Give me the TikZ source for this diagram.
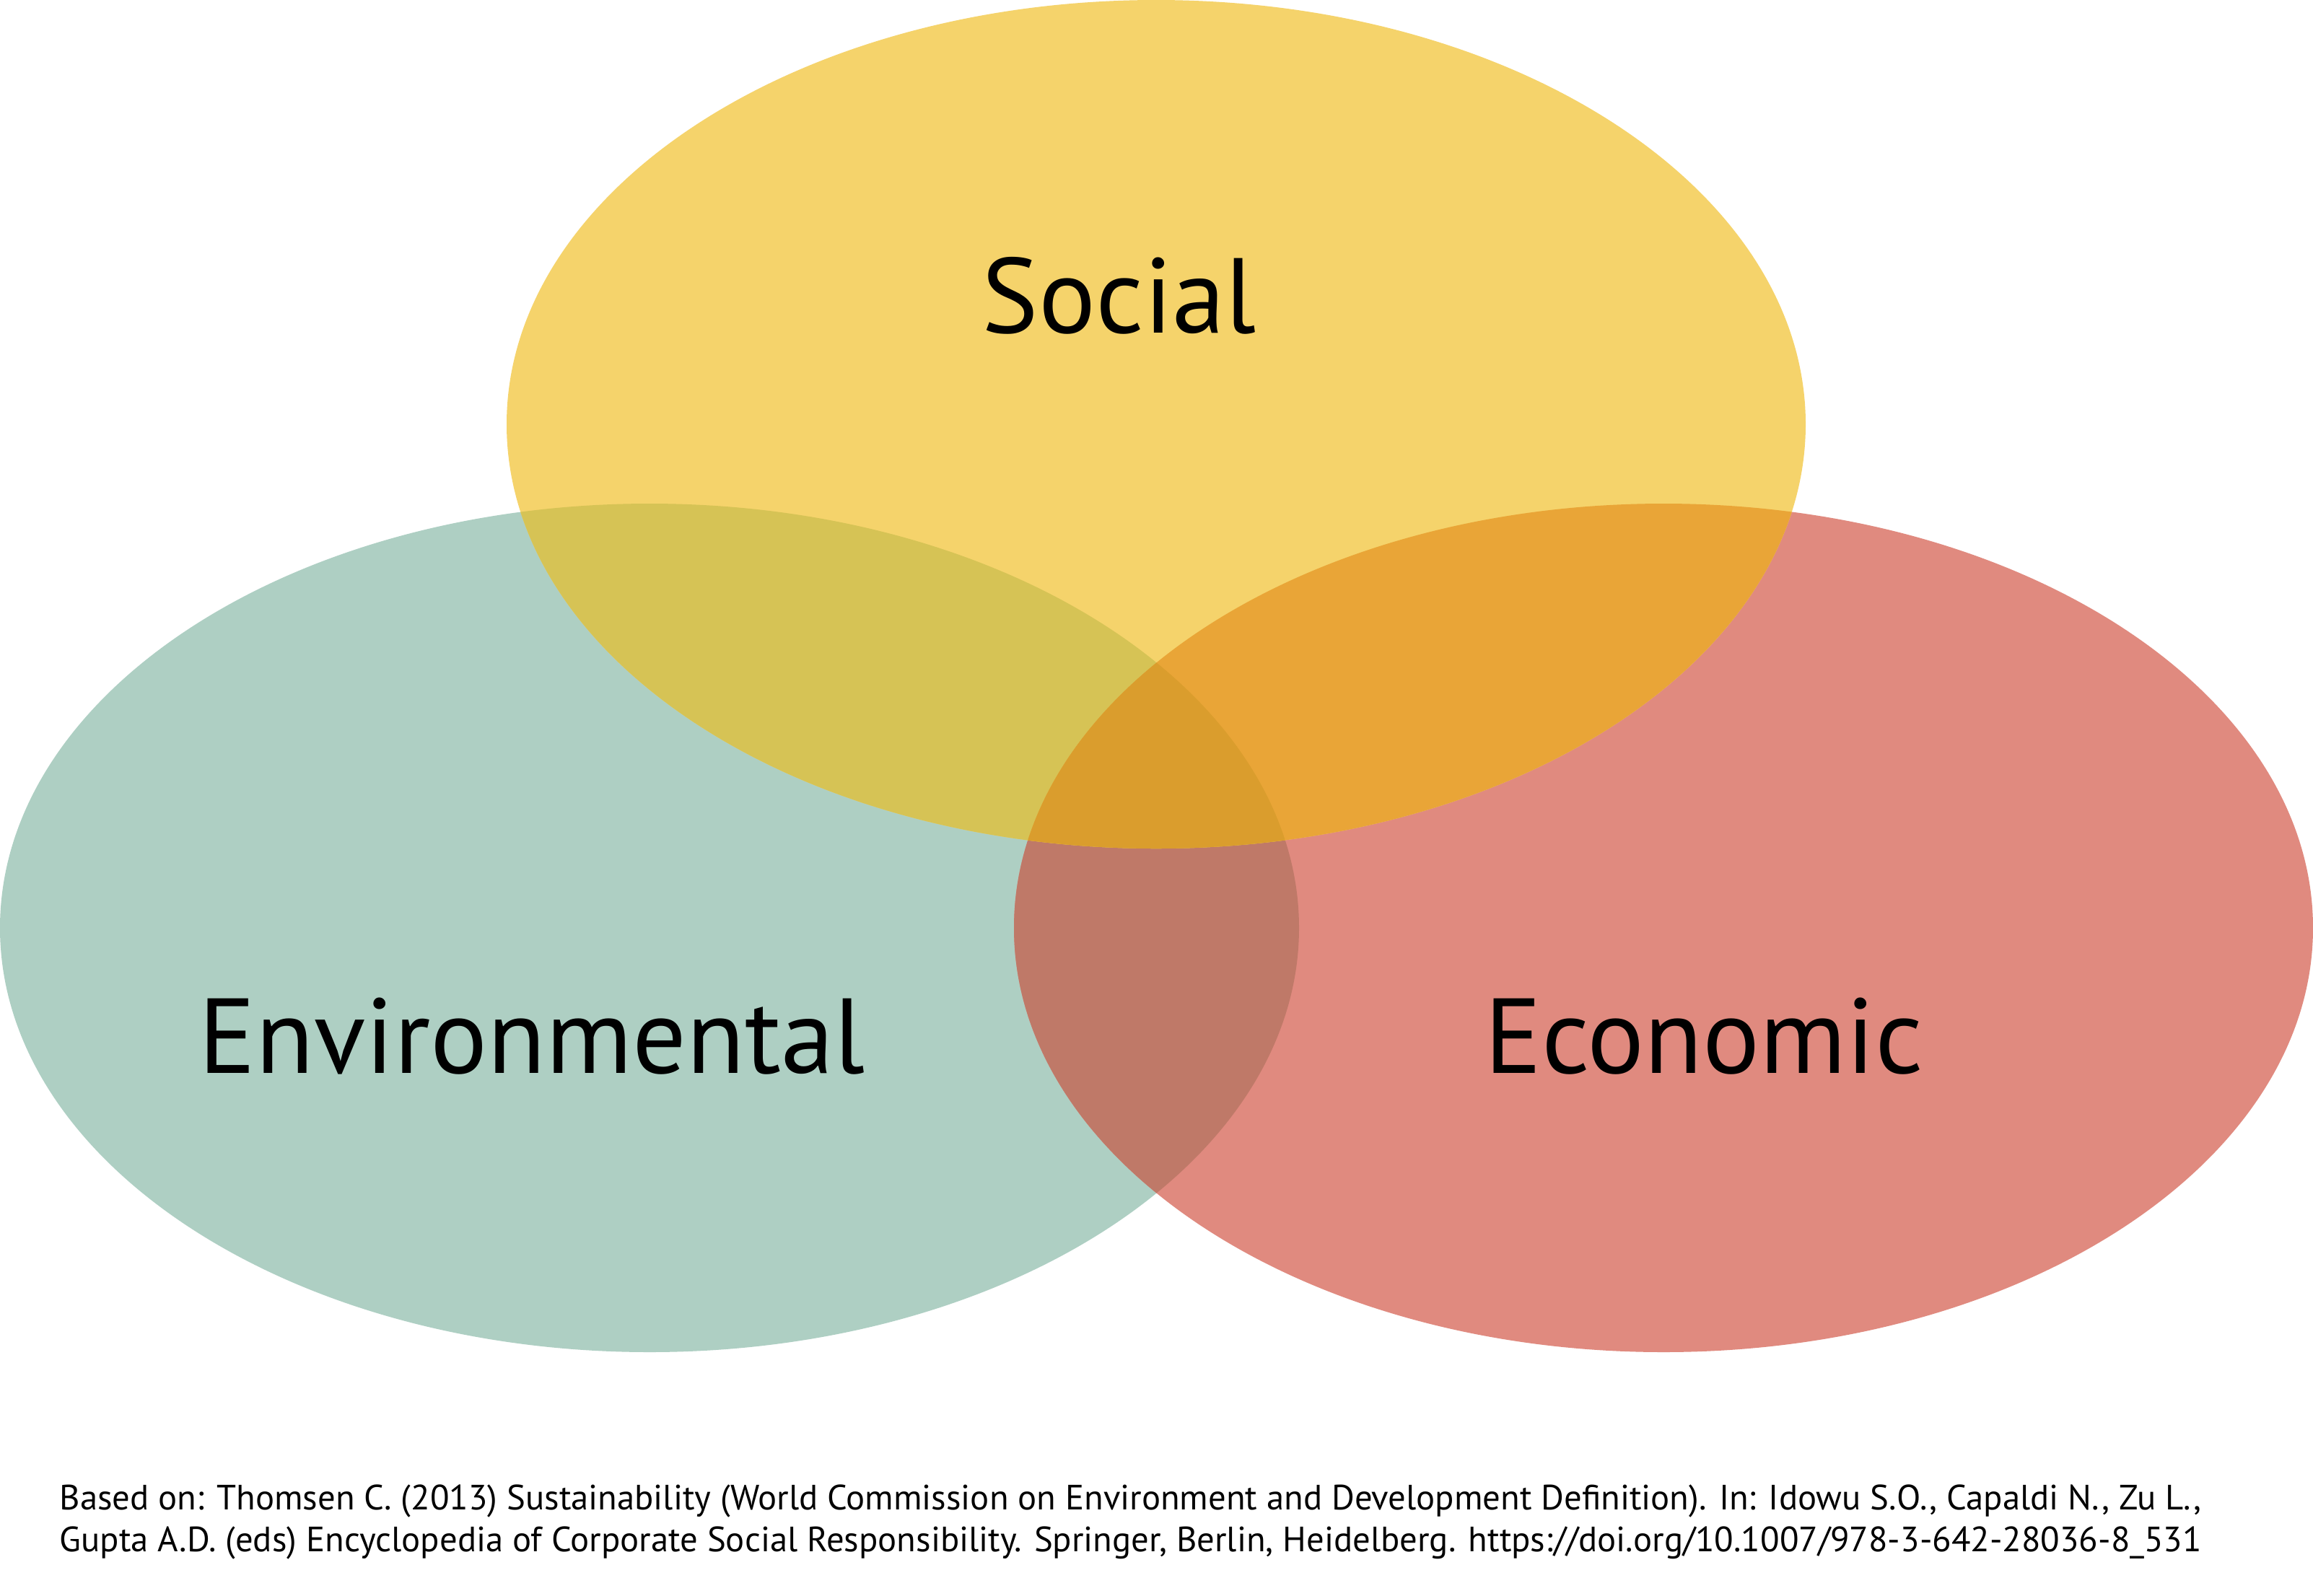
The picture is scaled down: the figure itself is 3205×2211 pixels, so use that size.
\documentclass[tikz,border=0pt]{standalone}
\usepackage{fontspec}
\setmainfont{PT Sans}
\definecolor{socC}{HTML}{F5D36B}
\definecolor{envC}{HTML}{AECFC3}
\definecolor{ecoC}{HTML}{E08A7F}
\definecolor{seC}{HTML}{D6C355}
\definecolor{scC}{HTML}{E9A537}
\definecolor{ecC}{HTML}{BF7968}
\definecolor{allC}{HTML}{DA9D2D}
\begin{document}
\begin{tikzpicture}[x=0.01cm,y=-0.01cm,
  biglabel/.style={font=\fontsize{42}{50}\selectfont, anchor=base, inner sep=0pt},
  notelabel/.style={font=\fontsize{13.85}{16.5}\selectfont, anchor=base west, inner sep=0pt}]
\useasboundingbox (0,0) rectangle (3205,2211);
\fill[white] (0,0) rectangle (3205,2211);
\def\envpath{(900,1286) ellipse [x radius=900, y radius=588]}
\def\ecopath{(2305,1286) ellipse [x radius=900, y radius=588]}
\def\socpath{(1602,588) ellipse [x radius=900, y radius=588]}
\fill[envC] \envpath;
\fill[ecoC] \ecopath;
\begin{scope}
  \clip \envpath;
  \fill[ecC] \ecopath;
\end{scope}
\fill[socC] \socpath;
\begin{scope}
  \clip \socpath;
  \fill[seC] \envpath;
  \fill[scC] \ecopath;
  \clip \envpath;
  \fill[allC] \ecopath;
\end{scope}
\node[biglabel] (social) at (1551,461) {Social};
\node[biglabel] (env) at (737,1487) {Environmental};
\node[biglabel] (eco) at (2361,1487) {Economic};
\node[notelabel] (note1) at (82,2092) {Based on: Thomsen C. (2013) Sustainability (World Commission on Environment and Development Definition). In: Idowu S.O., Capaldi N., Zu L.,};
\node[notelabel] (note2) at (82,2150) {Gupta A.D. (eds) Encyclopedia of Corporate Social Responsibility. Springer, Berlin, Heidelberg. https://doi.org/10.1007/978-3-642-28036-8\_531};
\end{tikzpicture}
\end{document}
